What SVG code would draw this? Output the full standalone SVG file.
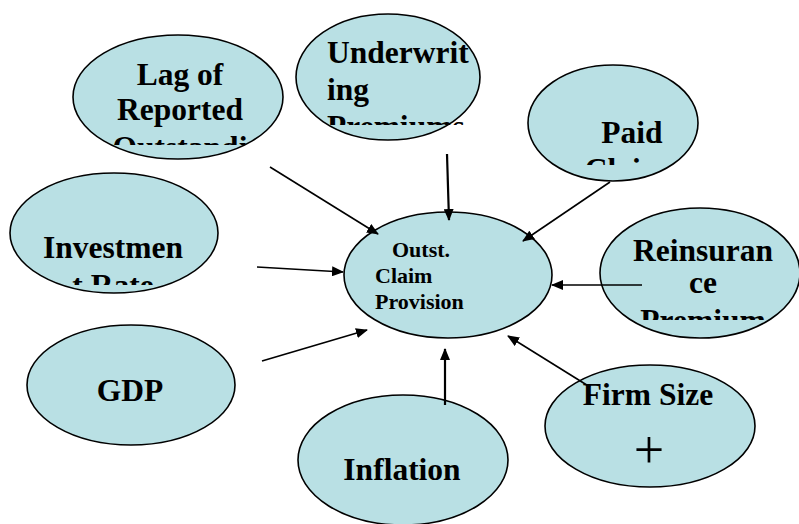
<svg xmlns="http://www.w3.org/2000/svg" width="799" height="524" viewBox="0 0 799 524">
<style>
.node{fill:#b9e0e4;stroke:#000;stroke-width:1.6}
.t{font-family:"Liberation Serif","Times New Roman",serif;font-weight:bold;font-size:31.5px;fill:#000}
.c{text-anchor:middle}
.s{font-size:22px}
.edge{stroke:#000;stroke-width:1.6;fill:none;marker-end:url(#ah)}
.thick{stroke-width:2.2}
</style>
<defs>
<marker id="ah" viewBox="0 0 12 10" refX="11" refY="5" markerWidth="12" markerHeight="10" markerUnits="userSpaceOnUse" orient="auto">
<path d="M0,0 L12,5 L0,10 z" fill="#000"/>
</marker>
<clipPath id="cLag"><rect x="70" y="30" width="220" height="115"/></clipPath>
<clipPath id="cUnd"><rect x="290" y="10" width="200" height="115"/></clipPath>
<clipPath id="cPaid"><rect x="520" y="60" width="190" height="105"/></clipPath>
<clipPath id="cRe"><rect x="595" y="205" width="204" height="115"/></clipPath>
<clipPath id="cInv"><rect x="5" y="170" width="220" height="115"/></clipPath>
</defs>

<g id="node-lag">
<ellipse class="node" cx="178" cy="97" rx="105" ry="62"/>
<g clip-path="url(#cLag)">
<text class="t c" x="180" y="85">Lag of</text>
<text class="t c" x="180" y="120">Reported</text>
<text class="t c" x="180" y="158">Outstandi</text>
</g>
</g>

<g id="node-underwriting">
<ellipse class="node" cx="388" cy="77" rx="92" ry="63"/>
<g clip-path="url(#cUnd)">
<text class="t" x="327" y="63">Underwrit</text>
<text class="t" x="327" y="100">ing</text>
<text class="t" x="327" y="137">Premiums</text>
</g>
</g>

<g id="node-paid">
<ellipse class="node" cx="613" cy="123" rx="85" ry="58"/>
<g clip-path="url(#cPaid)">
<text class="t c" x="632" y="143">Paid</text>
<text class="t c" x="632" y="180">Claims</text>
</g>
</g>

<g id="node-reinsurance">
<ellipse class="node" cx="700" cy="273" rx="100" ry="65"/>
<g clip-path="url(#cRe)">
<text class="t c" x="703" y="261">Reinsuran</text>
<text class="t c" x="703" y="293">ce</text>
<text class="t c" x="703" y="331">Premium</text>
</g>
</g>

<g id="node-outst">
<ellipse class="node" cx="448" cy="275" rx="104" ry="63"/>
<text class="t s" x="392" y="257">Outst.</text>
<text class="t s" x="375" y="283">Claim</text>
<text class="t s" x="375" y="309">Provision</text>
</g>

<g id="node-investment">
<ellipse class="node" cx="114" cy="233" rx="104" ry="60"/>
<g clip-path="url(#cInv)">
<text class="t c" x="113" y="258">Investmen</text>
<text class="t c" x="113" y="296">t Rate</text>
</g>
</g>

<g id="node-gdp">
<ellipse class="node" cx="131" cy="385" rx="104" ry="60"/>
<text class="t c" x="130" y="401">GDP</text>
</g>

<g id="node-inflation">
<ellipse class="node" cx="403" cy="460" rx="105" ry="65"/>
<text class="t c" x="402" y="480">Inflation</text>
</g>

<g id="node-firm">
<ellipse class="node" cx="650" cy="426" rx="105" ry="61"/>
<text class="t c" x="648" y="405">Firm Size</text>
<text x="649" y="468" text-anchor="middle" font-family="Liberation Serif, Times New Roman, serif" font-size="54" fill="#000">+</text>
</g>

<g id="connectors">
<line class="edge" x1="270" y1="167" x2="378" y2="234"/>
<line class="edge thick" x1="447" y1="154" x2="449" y2="220"/>
<line class="edge" x1="610" y1="182" x2="523" y2="241"/>
<line class="edge" x1="642" y1="285" x2="552" y2="285"/>
<line class="edge" x1="257" y1="267" x2="343" y2="272"/>
<line class="edge" x1="262" y1="361" x2="367" y2="330"/>
<line class="edge thick" x1="445" y1="405" x2="445" y2="349"/>
<line class="edge" x1="590" y1="387" x2="508" y2="336"/>
</g>
</svg>
